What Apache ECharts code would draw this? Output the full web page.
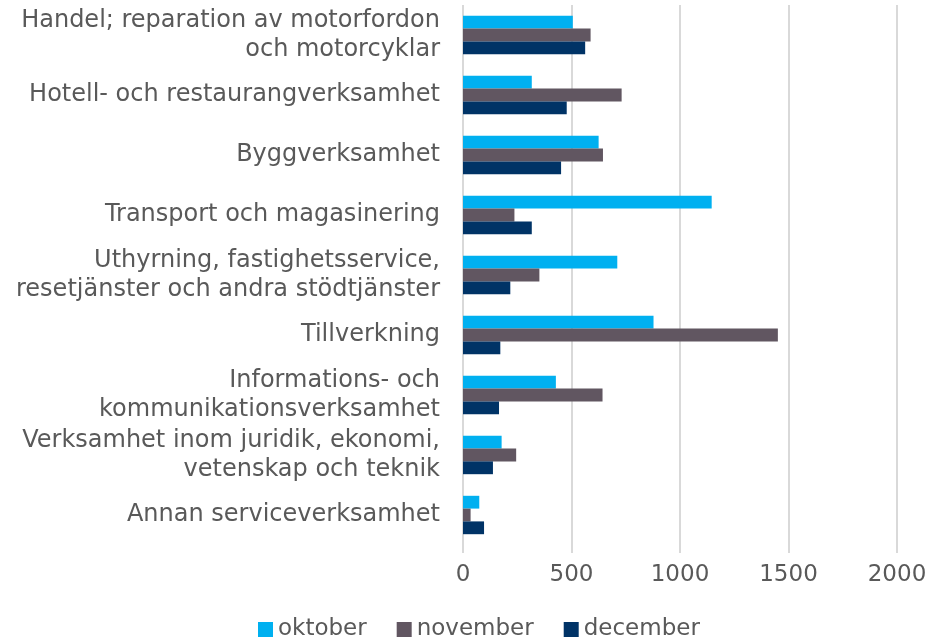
<!DOCTYPE html>
<html>
<head>
<meta charset="utf-8">
<script src="https://cdn.jsdelivr.net/npm/echarts@6/dist/echarts.min.js"></script>
<style>
  html, body { margin: 0; padding: 0; background: #fff; }
  #chart { width: 930px; height: 639px; }
</style>
</head>
<body>
<div id="chart"></div>
<script>
// branscher, uppifrån och ned
const categories = [
  'Handel; reparation av motorfordon\noch motorcyklar',
  'Hotell- och restaurangverksamhet',
  'Byggverksamhet',
  'Transport och magasinering',
  'Uthyrning, fastighetsservice,\nresetjänster och andra stödtjänster',
  'Tillverkning',
  'Informations- och\nkommunikationsverksamhet',
  'Verksamhet inom juridik, ekonomi,\nvetenskap och teknik',
  'Annan serviceverksamhet'
];
const oktober = [506, 317, 625, 1146, 711, 878, 428, 178, 75];
const november = [588, 731, 645, 237, 352, 1451, 643, 245, 35];
const december = [563, 478, 452, 317, 218, 172, 166, 138, 97];
const xTicks = [0, 500, 1000, 1500, 2000];

const font = "'DejaVu Sans', sans-serif";
const textColor = '#595959';

let myChart = echarts.init(document.getElementById('chart'));
let option = {
  animation: false,
  color: ['#00B0F0', '#615661', '#003366'],
  textStyle: { fontFamily: font },
  legend: {
    bottom: -7,
    left: 253,
    itemWidth: 15,
    itemHeight: 15,
    itemGap: 30,
    icon: 'rect',
    textStyle: { fontSize: 23, color: textColor, fontFamily: font },
    data: ['oktober', 'november', 'december']
  },
  grid: {
    left: 463,
    right: 33,
    top: 5,
    bottom: 94
  },
  xAxis: {
    type: 'value',
    min: xTicks[0],
    max: xTicks[xTicks.length - 1],
    interval: 500,
    axisLine: { show: false },
    axisTick: { show: true, length: 8, lineStyle: { color: '#D9D9D9', width: 2 } },
    splitLine: { show: true, lineStyle: { color: '#D9D9D9', width: 2 } },
    axisLabel: {
      fontSize: 23,
      color: textColor,
      margin: 19,
      fontFamily: font,
      formatter: function (v) { return String(v); }
    }
  },
  yAxis: {
    type: 'category',
    inverse: true,
    data: categories,
    axisLine: { show: false },
    axisTick: { show: false },
    axisLabel: {
      fontSize: 24,
      color: textColor,
      margin: 23,
      lineHeight: 29,
      fontFamily: font
    }
  },
  series: [
    { name: 'oktober', type: 'bar', data: oktober, barGap: '0%', barCategoryGap: '36%' },
    { name: 'november', type: 'bar', data: november, barGap: '0%', barCategoryGap: '36%' },
    { name: 'december', type: 'bar', data: december, barGap: '0%', barCategoryGap: '36%' }
  ]
};
myChart.setOption(option);
</script>
</body>
</html>
